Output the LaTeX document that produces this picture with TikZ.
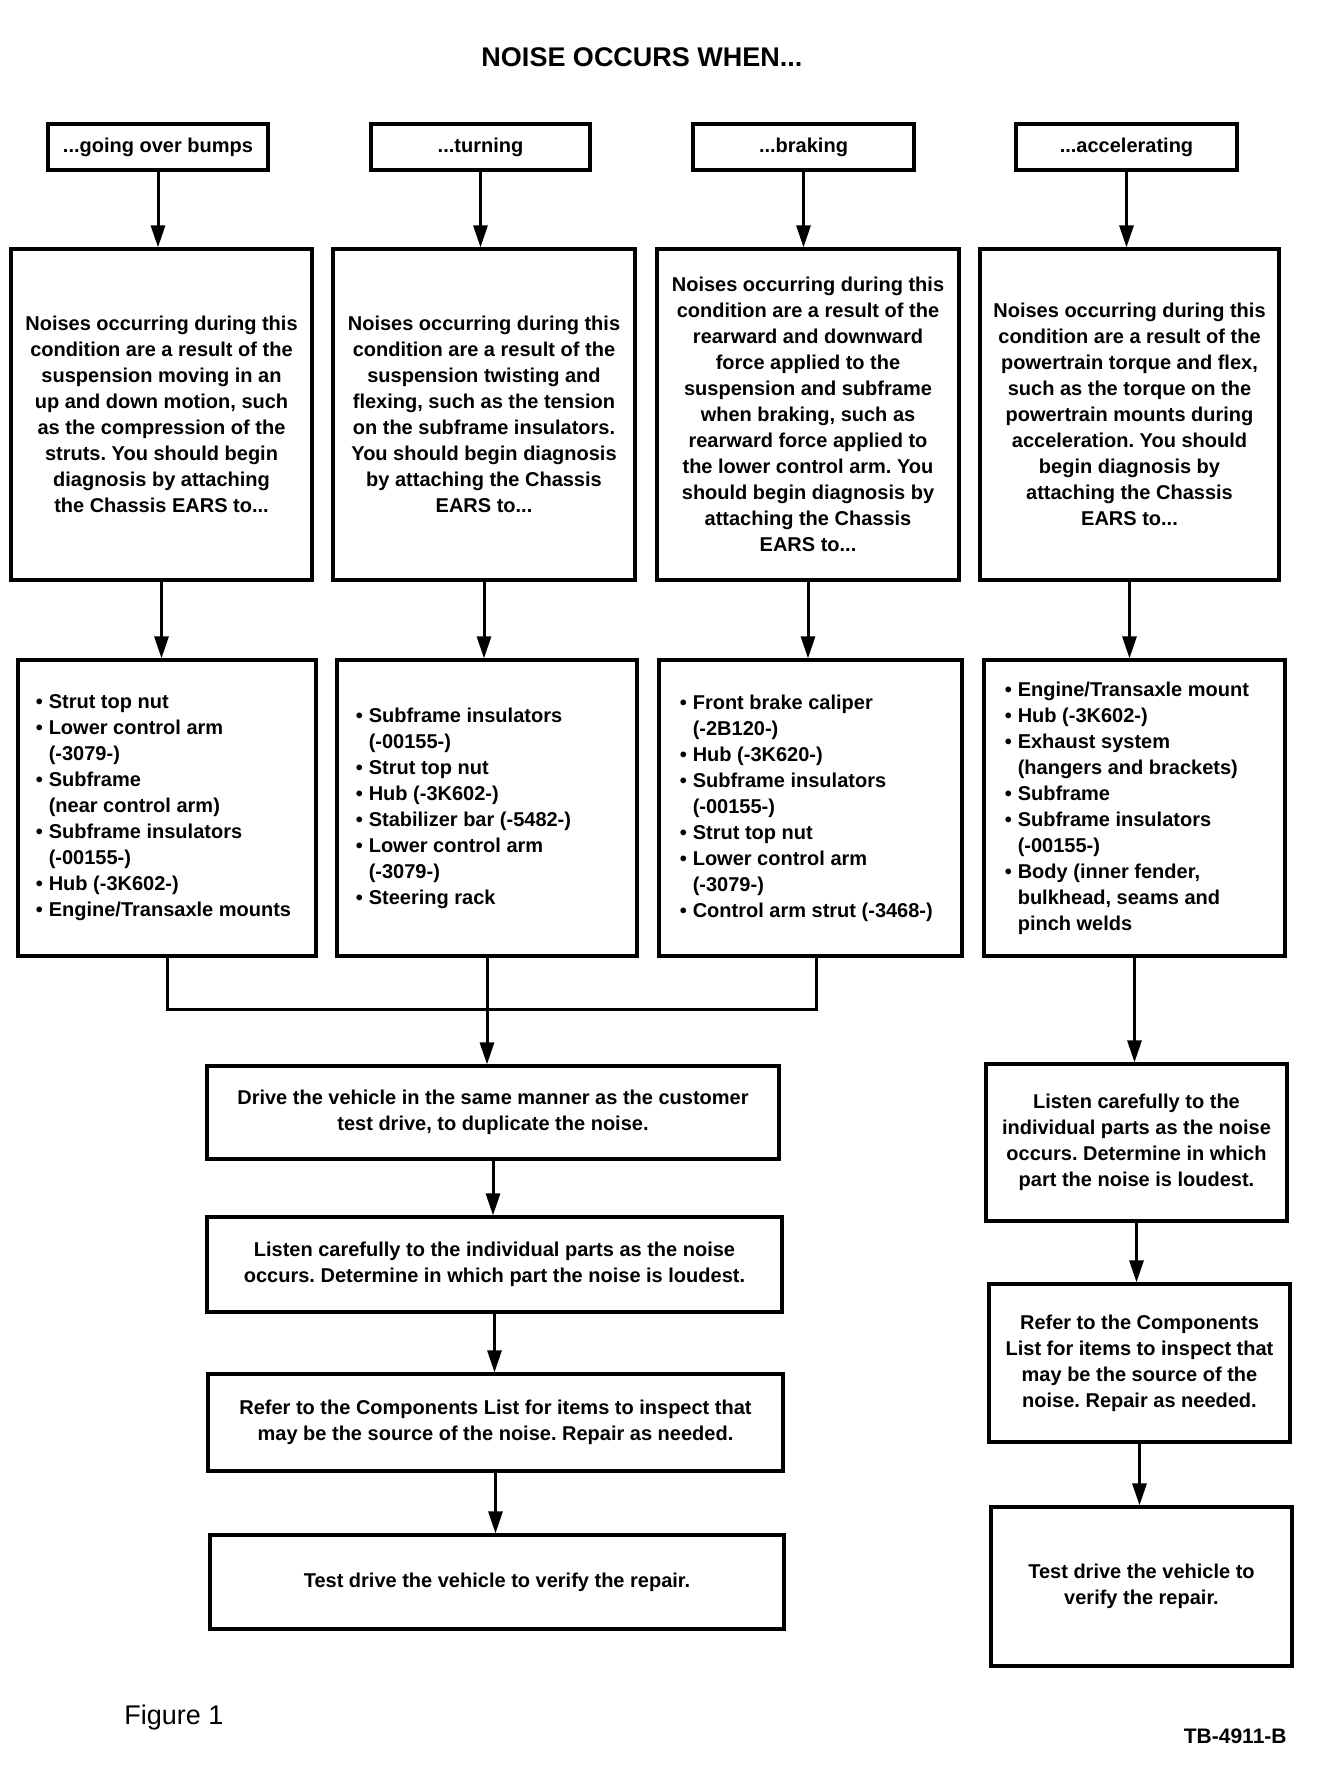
\documentclass[tikz,border=0pt]{standalone}
\usepackage{fontspec}
\setmainfont{Liberation Sans}
\usetikzlibrary{arrows.meta,calc}
\newcommand\litem{\makebox[6.5pt][l]{\textbullet}}
\newcommand\lcont{\hspace*{6.5pt}}
\frenchspacing
\begin{document}
\frenchspacing
\begin{tikzpicture}[x=0.5pt,y=-0.5pt,
  box/.style={draw, line width=1.6pt, inner sep=0pt, align=center, font=\fontsize{10}{13}\selectfont\bfseries\frenchspacing},
  lst/.style={inner sep=0pt, align=left, anchor=west, font=\fontsize{10}{13}\selectfont\bfseries\frenchspacing},
  arr/.style={line width=1.5pt, -{Triangle[length=11pt,width=7pt]}},
  ln/.style={line width=1.5pt}]
\fill[white] (0,0) rectangle (1328,1774);
\useasboundingbox (0,0) rectangle (1328,1774);

\node[font=\fontsize{13.5}{16}\selectfont\bfseries] (title) at (642,57) {NOISE OCCURS WHEN...};

% top boxes
\node[box, minimum width=110pt, minimum height=23pt] (tA) at (158,147) {...going over bumps};
\node[box, minimum width=109.5pt, minimum height=23pt] (tB) at (480.5,147) {...turning};
\node[box, minimum width=110.5pt, minimum height=23pt] (tC) at (803.5,147) {...braking};
\node[box, minimum width=110.5pt, minimum height=23pt] (tD) at (1126.5,147) {...accelerating};

% big boxes
\node[box, minimum width=150.5pt, minimum height=165.5pt] (bA) at (161.5,414.5) {Noises occurring during this\\condition are a result of the\\suspension moving in an\\up and down motion, such\\as the compression of the\\struts. You should begin\\diagnosis by attaching\\the Chassis EARS to...};
\node[box, minimum width=151pt, minimum height=165.5pt] (bB) at (484,414.5) {Noises occurring during this\\condition are a result of the\\suspension twisting and\\flexing, such as the tension\\on the subframe insulators.\\You should begin diagnosis\\by attaching the Chassis\\EARS to...};
\node[box, minimum width=151pt, minimum height=165.5pt] (bC) at (808,414.5) {Noises occurring during this\\condition are a result of the\\rearward and downward\\force applied to the\\suspension and subframe\\when braking, such as\\rearward force applied to\\the lower control arm. You\\should begin diagnosis by\\attaching the Chassis\\EARS to...};
\node[box, minimum width=149.5pt, minimum height=165.5pt] (bD) at (1129.5,414.5) {Noises occurring during this\\condition are a result of the\\powertrain torque and flex,\\such as the torque on the\\powertrain mounts during\\acceleration. You should\\begin diagnosis by\\attaching the Chassis\\EARS to...};

% list boxes
\node[box, minimum width=149pt, minimum height=148pt] (lA) at (167,808) {};
\node[box, minimum width=150pt, minimum height=148pt] (lB) at (487,808) {};
\node[box, minimum width=151.5pt, minimum height=148pt] (lC) at (810.5,808) {};
\node[box, minimum width=150.5pt, minimum height=148pt] (lD) at (1134.5,808) {};

\node[lst] (tlA) at ([xshift=9.5pt]lA.west) {\litem Strut top nut\\\litem Lower control arm\\\lcont(-3079-)\\\litem Subframe\\\lcont(near control arm)\\\litem Subframe insulators\\\lcont(-00155-)\\\litem Hub (-3K602-)\\\litem Engine/Transaxle mounts};
\node[lst] (tlB) at ([xshift=10pt]lB.west) {\litem Subframe insulators\\\lcont(-00155-)\\\litem Strut top nut\\\litem Hub (-3K602-)\\\litem Stabilizer bar (-5482-)\\\litem Lower control arm\\\lcont(-3079-)\\\litem Steering rack};
\node[lst] (tlC) at ([xshift=11pt]lC.west) {\litem Front brake caliper\\\lcont(-2B120-)\\\litem Hub (-3K620-)\\\litem Subframe insulators\\\lcont(-00155-)\\\litem Strut top nut\\\litem Lower control arm\\\lcont(-3079-)\\\litem Control arm strut (-3468-)};
\node[lst] (tlD) at ([xshift=11pt]lD.west) {\litem Engine/Transaxle mount\\\litem Hub (-3K602-)\\\litem Exhaust system\\\lcont(hangers and brackets)\\\litem Subframe\\\litem Subframe insulators\\\lcont(-00155-)\\\litem Body (inner fender,\\\lcont bulkhead, seams and\\\lcont pinch welds};

% left column steps
\node[box, minimum width=286pt, minimum height=46.5pt] (drive) at (493,1112.5) {Drive the vehicle in the same manner as the customer\\test drive, to duplicate the noise.};
\node[box, minimum width=287.5pt, minimum height=47.5pt] (listenL) at (494.5,1264.5) {Listen carefully to the individual parts as the noise\\occurs. Determine in which part the noise is loudest.};
\node[box, minimum width=287.5pt, minimum height=48.5pt] (referL) at (495.5,1422.5) {Refer to the Components List for items to inspect that\\may be the source of the noise. Repair as needed.};
\node[box, minimum width=287pt, minimum height=47pt] (testL) at (497,1582) {Test drive the vehicle to verify the repair.};

% right column steps
\node[box, minimum width=150.5pt, minimum height=78.5pt] (listenR) at (1136.5,1142.5) {Listen carefully to the\\individual parts as the noise\\occurs. Determine in which\\part the noise is loudest.};
\node[box, minimum width=150.5pt, minimum height=79pt] (referR) at (1139.5,1363) {Refer to the Components\\List for items to inspect that\\may be the source of the\\noise. Repair as needed.};
\node[box, minimum width=150.5pt, minimum height=79.5pt] (testR) at (1141.5,1586.5) {Test drive the vehicle to\\verify the repair.};

% captions
\node[anchor=west, inner sep=0pt, font=\fontsize{13.5}{16}\selectfont] (fig) at (124,1717) {Figure 1};
\node[anchor=east, inner sep=0pt, font=\fontsize{10.5}{12}\selectfont\bfseries] (tb) at (1287,1736) {TB-4911-B};

% connectors
\foreach \c in {A,B,C,D} {
  \draw[arr] (t\c.south) -- (t\c.south |- b\c.north);
  \draw[arr] (b\c.south) -- (b\c.south |- l\c.north);
}
\coordinate (j) at (489,1009);
\coordinate (jC) at ([xshift=3pt]lC.south);
\draw[ln] (lA.south) -- (lA.south |- j) -- (jC |- j) -- (jC);
\draw[ln] (lB.south) -- (lB.south |- j);
\draw[arr] (lB.south |- j) -- (lB.south |- drive.north);
\draw[arr] (drive.south) -- (drive.south |- listenL.north);
\draw[arr] (listenL.south) -- (listenL.south |- referL.north);
\draw[arr] (referL.south) -- (referL.south |- testL.north);
\draw[arr] (lD.south) -- (lD.south |- listenR.north);
\draw[arr] (listenR.south) -- (listenR.south |- referR.north);
\draw[arr] (referR.south) -- (referR.south |- testR.north);
\end{tikzpicture}
\end{document}
